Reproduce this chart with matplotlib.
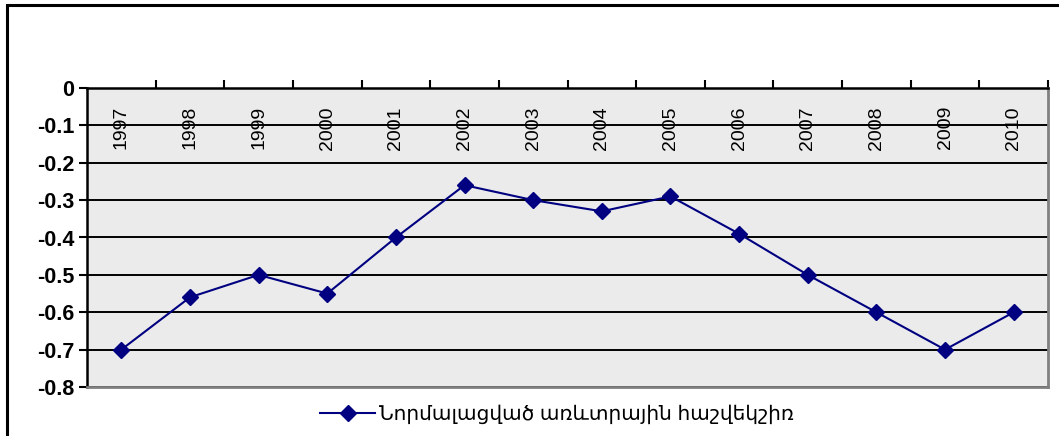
import matplotlib
matplotlib.use("Agg")
import matplotlib.pyplot as plt
from matplotlib.patches import Rectangle

years = ["1997", "1998", "1999", "2000", "2001", "2002", "2003",
         "2004", "2005", "2006", "2007", "2008", "2009", "2010"]
values = [-0.70, -0.56, -0.50, -0.55, -0.40, -0.26, -0.30,
          -0.33, -0.29, -0.39, -0.50, -0.60, -0.70, -0.60]
y_ticks = [0, -0.1, -0.2, -0.3, -0.4, -0.5, -0.6, -0.7, -0.8]
series_name = "Նորմալացված առևտրային հաշվեկշիռ"

plt.rcParams['font.family'] = ['Liberation Sans', 'DejaVu Sans']

fig = plt.figure(figsize=(10.59, 4.36), dpi=100)
# outer chart border (only top and left visible in the reference)
fig.patches.append(Rectangle((7 / 1059, -0.1), 1.2, 1 - 5 / 436 + 0.1,
                             transform=fig.transFigure, fill=False,
                             edgecolor="black", linewidth=2.2))

ax = fig.add_axes([87 / 1059, 1 - 387 / 436, (1048 - 87) / 1059, (387 - 88) / 436])
ax.set_facecolor("#ebebeb")

x = list(range(len(years)))
ax.plot(x, values, color="#000080", linewidth=1.5, marker="D",
        markersize=8.5, markerfacecolor="#000080", markeredgecolor="#000080",
        label=series_name, zorder=3)

ax.set_xlim(-0.5, len(years) - 0.5)
ax.set_ylim(-0.8, 0)
ax.set_yticks(y_ticks)
ax.set_yticklabels(["0" if v == 0 else f"{v:.1f}" for v in y_ticks],
                   fontsize=15.5, fontweight="bold")
ax.tick_params(axis="y", length=6, width=1.5, direction="out", pad=3)
ax.grid(axis="y", color="black", linewidth=1.4)

# category axis lies at y = 0 (top), ticks between categories
ax.xaxis.tick_top()
ax.set_xticks([i + 0.5 for i in range(len(years))])
ax.set_xticklabels([])
ax.tick_params(axis="x", length=6, width=1.5, direction="out")
for i, yr in enumerate(years):
    ax.annotate(yr, xy=(i, 0), xytext=(0, -13), textcoords="offset points",
                rotation=90, ha="center", va="top", fontsize=14)

for side in ["top", "left"]:
    ax.spines[side].set_color("black")
    ax.spines[side].set_linewidth(1.8)
for side in ["bottom", "right"]:
    ax.spines[side].set_color("#808080")
    ax.spines[side].set_linewidth(2)

fig.legend(handles=ax.get_lines(), loc="center", bbox_to_anchor=(557 / 1059, 1 - 414 / 436),
           frameon=False, fontsize=14.5, handlelength=2.7, handletextpad=0.2,
           borderpad=0, borderaxespad=0)

plt.savefig("out.png", dpi=100)
